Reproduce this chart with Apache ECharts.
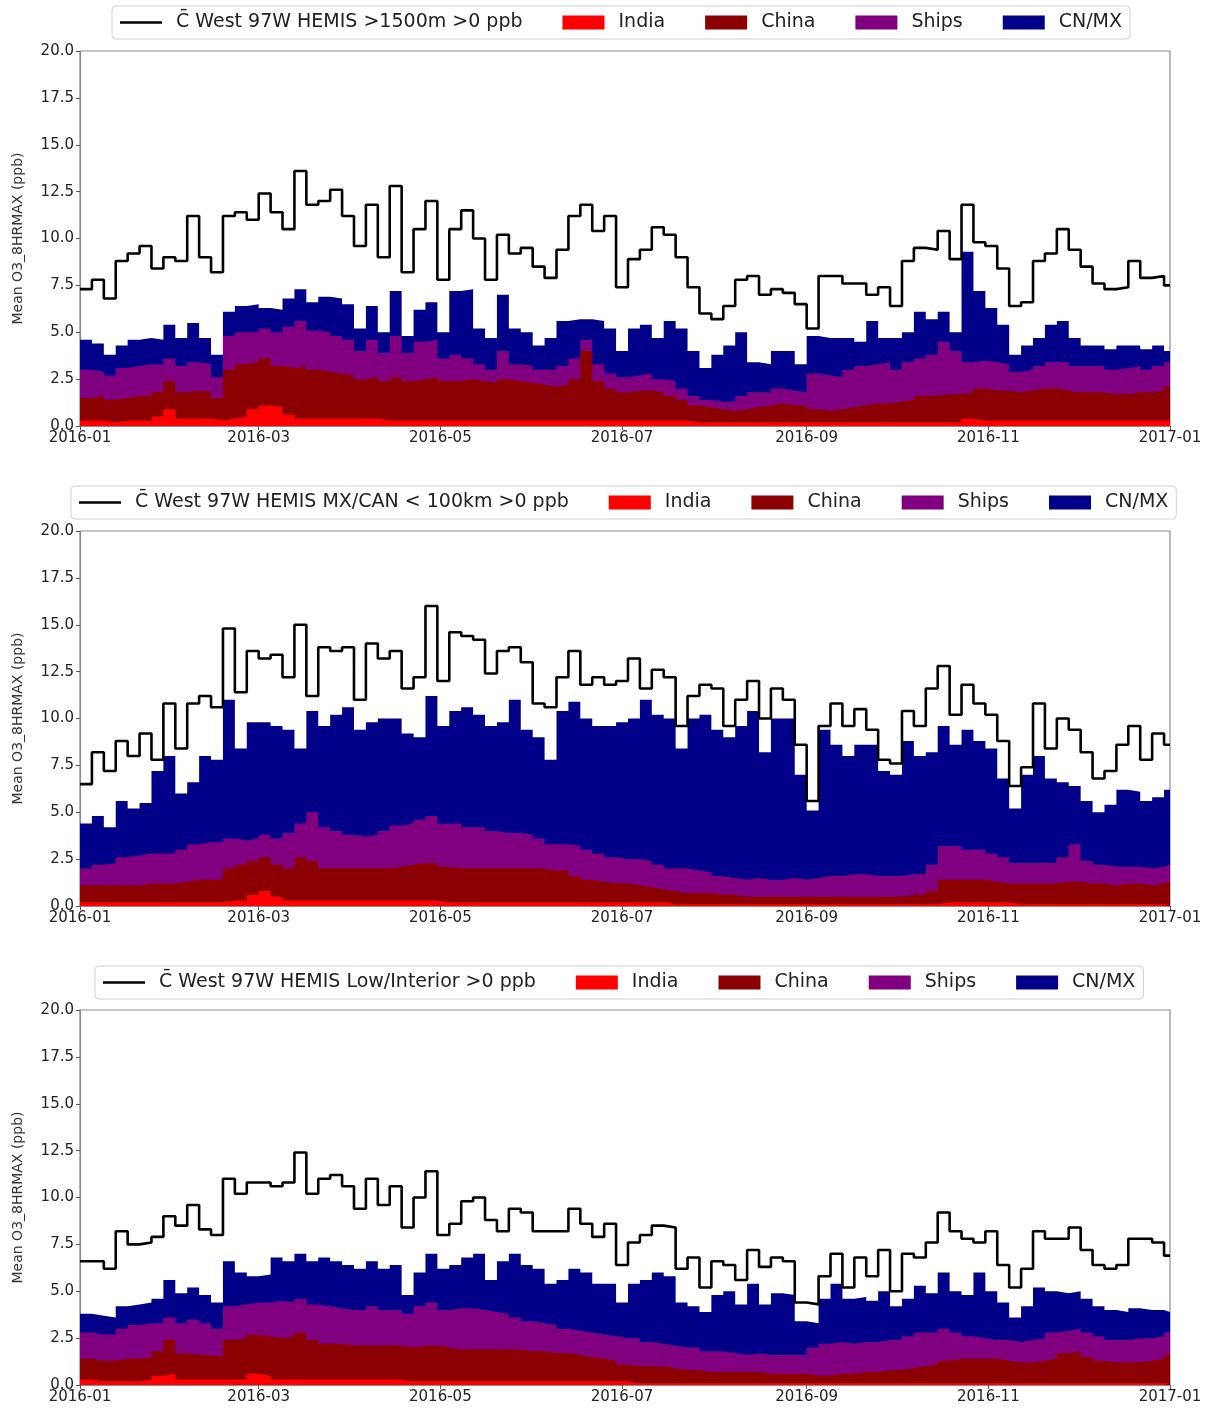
<!DOCTYPE html>
<html>
<head>
<meta charset="utf-8">
<script src="https://cdn.jsdelivr.net/npm/echarts@6/dist/echarts.min.js"></script>
<style>
  html, body { margin: 0; padding: 0; background: #fff; }
  #main { width: 1214px; height: 1410px; }
</style>
</head>
<body>
<div id="main"></div>
<script>
// x axis: day of 2016 (leap year), labels at the first of every second month
const tickDays = [0, 60, 121, 182, 244, 305, 366];
const tickLabels = ['2016-01', '2016-03', '2016-05', '2016-07', '2016-09', '2016-11', '2017-01'];
const binDays = 4;
const lastDay = 366;
const yTicks = [0, 2.5, 5, 7.5, 10, 12.5, 15, 17.5, 20];

const sourceNames = ['India', 'China', 'Ships', 'CN/MX'];
const sourceColors = ['#ff0000', '#8b0000', '#800080', '#000088'];
const lineNames = [
  'C\u0304 West 97W HEMIS >1500m >0 ppb',
  'C\u0304 West 97W HEMIS MX/CAN < 100km >0 ppb',
  'C\u0304 West 97W HEMIS Low/Interior >0 ppb'
];

// ---- panel 1: >1500m
const p1Total = [7.3,7.8,6.8,8.8,9.2,9.6,8.4,9.0,8.8,11.2,9.0,8.2,
  11.2,11.4,11.0,12.4,11.4,10.5,13.6,11.8,12.0,12.6,11.2,9.6,
  11.8,9.0,12.8,8.2,10.5,12.0,7.8,10.5,11.5,10.0,7.8,10.2,
  9.2,9.5,8.5,7.9,9.4,11.2,11.8,10.4,11.2,7.4,8.9,9.4,
  10.6,10.2,9.0,7.4,6.0,5.7,6.4,7.8,8.0,7.0,7.3,7.1,
  6.5,5.2,8.0,8.0,7.6,7.6,7.0,7.4,6.4,8.8,9.5,9.4,
  10.4,8.9,11.8,9.8,9.6,8.4,6.4,6.6,8.8,9.2,10.5,9.4,
  8.5,7.6,7.3,7.4,8.8,7.9,8.0,7.5];
const p1India = [.3,.3,.2,.3,.3,.3,.5,.9,.4,.4,.4,.3,
  .4,.5,.9,1.1,1.0,.6,.4,.4,.4,.4,.4,.4,
  .4,.3,.3,.3,.3,.3,.3,.3,.3,.3,.3,.3,
  .3,.3,.3,.3,.3,.3,.3,.3,.3,.3,.3,.3,
  .3,.3,.3,.2,.2,.2,.2,.2,.2,.2,.2,.2,
  .2,.2,.2,.2,.2,.2,.2,.2,.2,.2,.2,.2,
  .2,.2,.4,.3,.3,.3,.3,.3,.3,.3,.3,.3,
  .3,.3,.3,.3,.3,.3,.3,.3];
const p1China = [1.2,1.3,1.2,1.2,1.3,1.3,1.3,1.5,1.4,1.5,1.4,1.2,
  2.6,2.8,2.5,2.5,2.2,2.5,2.8,2.6,2.5,2.4,2.3,2.1,
  2.2,2.1,2.3,2.1,2.2,2.3,2.1,2.1,2.2,2.1,2.0,2.2,
  2.1,2.0,1.9,1.8,1.9,2.2,3.7,2.1,1.7,1.5,1.6,1.6,
  1.5,1.3,1.1,.9,.8,.7,.6,.7,.8,.9,1.0,.9,
  .9,.7,.6,.7,.8,.9,1.0,1.0,1.1,1.2,1.4,1.4,
  1.5,1.5,1.4,1.7,1.6,1.6,1.5,1.6,1.7,1.7,1.6,1.5,
  1.5,1.5,1.4,1.4,1.5,1.5,1.6,1.8];
const p1Ships = [1.5,1.3,1.3,1.6,1.6,1.7,1.5,1.2,1.4,1.5,1.5,1.1,
  1.8,1.7,1.6,1.6,1.8,2.2,2.4,2.1,2.1,2.0,1.9,1.5,
  2.0,1.5,2.2,1.5,2.0,2.0,1.2,1.4,1.1,.9,.7,1.5,
  .9,.9,.8,.9,1.0,1.1,.6,.9,.8,.8,.8,.9,
  .7,.8,.6,.5,.4,.4,.5,.7,.8,.7,.8,.8,
  .7,1.9,1.9,1.7,2.0,2.1,2.1,2.2,1.7,2.0,2.0,2.2,
  2.8,2.3,1.6,1.5,1.5,1.4,1.1,1.1,1.2,1.4,1.5,1.4,
  1.4,1.4,1.3,1.4,1.4,1.2,1.3,1.3];
const p1Cnmx = [1.6,1.5,1.1,1.2,1.4,1.4,1.3,1.8,1.5,2.1,1.4,1.2,
  1.3,1.4,1.5,1.1,1.2,1.5,1.7,1.5,1.9,2.0,1.9,1.2,
  1.8,1.1,2.4,.9,1.7,2.0,1.4,3.4,3.7,1.9,1.7,3.0,
  1.9,1.8,1.3,1.7,2.4,2.1,1.1,2.3,2.4,1.4,2.5,2.6,
  2.2,3.2,3.2,2.4,1.7,2.5,3.0,3.4,1.6,1.5,2.0,2.1,
  1.5,2.0,2.0,2.1,1.7,1.3,2.3,1.3,1.7,1.6,2.5,1.9,
  1.6,1.0,5.9,3.7,2.9,2.1,.9,1.3,1.5,2.0,2.2,1.5,
  1.1,1.1,1.1,1.2,1.1,1.1,1.1,.6];

// ---- panel 2: MX/CAN < 100km
const p2Total = [6.5,8.2,7.2,8.8,8.0,9.2,7.8,10.8,8.4,10.8,11.2,10.6,
  14.8,11.4,13.6,13.2,13.4,12.2,15.0,11.2,13.8,13.6,13.8,11.0,
  14.0,13.2,13.6,11.6,12.2,16.0,12.0,14.6,14.4,14.2,12.4,13.6,
  13.8,13.0,10.8,10.6,12.2,13.6,11.8,12.2,11.8,12.0,13.2,11.6,
  12.6,12.2,9.6,11.2,11.8,11.6,9.6,11.0,12.0,10.0,11.6,11.0,
  8.6,5.6,9.6,10.8,9.6,10.5,9.4,7.8,7.6,10.4,9.6,11.6,
  12.8,10.2,11.8,10.8,10.2,8.8,6.4,7.4,10.8,8.4,10.0,9.4,
  8.2,6.8,7.2,8.6,9.6,7.8,9.2,8.6];
const p2India = [.2,.2,.2,.2,.2,.2,.2,.2,.2,.2,.2,.2,
  .3,.3,.6,.8,.5,.3,.3,.3,.3,.3,.3,.3,
  .3,.3,.3,.3,.3,.3,.2,.2,.2,.2,.2,.2,
  .2,.2,.2,.2,.2,.2,.2,.2,.2,.2,.2,.2,
  .2,.1,.1,.1,.1,.1,.1,.1,.1,.1,.1,.1,
  .1,.1,.1,.1,.1,.1,.1,.1,.1,.1,.1,.1,
  .2,.2,.2,.2,.2,.2,.1,.1,.1,.1,.1,.1,
  .1,.1,.1,.1,.1,.1,.1,.1];
const p2China = [.9,.9,.9,.9,.9,1.0,1.0,1.0,1.1,1.2,1.2,1.2,
  1.7,1.9,1.8,1.8,1.7,1.7,2.3,2.1,1.7,1.7,1.7,1.7,
  1.7,1.7,1.8,1.9,2.0,2.0,1.9,1.8,1.8,1.8,1.8,1.8,
  1.8,1.8,1.8,1.7,1.7,1.4,1.2,1.1,1.0,1.0,.9,.8,
  .7,.7,.6,.6,.6,.5,.5,.4,.4,.4,.4,.4,
  .4,.4,.4,.4,.4,.4,.4,.4,.4,.5,.5,.7,
  1.2,1.2,1.2,1.2,1.1,1.0,1.1,1.1,1.1,1.1,1.2,1.2,
  1.1,1.1,1.0,1.1,1.1,1.0,1.1,1.2];
const p2Ships = [.9,1.1,1.2,1.5,1.6,1.6,1.6,1.6,1.7,1.9,2.0,2.0,
  1.6,1.3,1.2,1.2,1.4,1.9,1.8,2.6,2.2,2.0,1.8,1.7,
  1.8,2.0,2.2,2.2,2.3,2.5,2.3,2.4,2.2,2.2,2.0,1.9,
  1.9,1.8,1.6,1.4,1.4,1.6,1.6,1.5,1.4,1.3,1.4,1.4,
  1.3,1.2,1.3,1.2,1.1,1.0,.9,.9,1.0,.9,.9,1.0,
  .9,1.0,1.1,1.1,1.2,1.2,1.1,1.1,1.1,1.1,1.1,1.4,
  1.8,1.8,1.6,1.6,1.5,1.4,1.1,1.1,1.1,1.1,1.3,2.0,
  1.2,1.0,1.0,.9,.9,.9,.9,.9];
const p2Cnmx = [2.4,2.6,1.9,3.0,2.5,2.7,4.4,5.2,3.0,3.3,4.6,4.4,
  7.4,4.9,6.2,6.0,6.0,5.5,4.0,5.4,5.4,6.2,6.8,5.7,
  6.0,6.0,5.7,4.8,4.4,6.4,5.2,6.0,6.4,6.0,5.6,5.9,
  7.1,5.6,5.4,4.5,7.1,7.7,7.0,6.8,7.0,7.3,7.5,8.6,
  8.0,8.0,6.4,8.1,8.4,7.8,7.5,8.2,8.9,6.8,8.6,8.5,
  5.6,3.6,7.8,7.0,6.3,6.9,7.0,5.6,5.4,7.1,6.3,6.0,
  6.4,5.4,6.4,5.8,5.6,4.2,2.9,4.7,5.7,4.5,4.0,3.1,
  3.2,2.8,3.3,4.1,4.0,3.6,3.7,4.0];

// ---- panel 3: Low/Interior
const p3Total = [6.6,6.6,6.2,8.2,7.5,7.6,7.9,9.0,8.5,9.6,8.3,8.0,
  11.0,10.2,10.8,10.8,10.6,10.8,12.4,10.2,11.0,11.2,10.6,9.4,
  11.0,9.6,10.6,8.4,10.0,11.4,8.0,8.6,9.8,10.0,8.8,8.2,
  9.4,9.2,8.2,8.2,8.2,9.4,8.6,7.9,8.6,6.4,7.6,8.0,
  8.5,8.4,6.2,6.8,5.2,6.6,6.4,5.6,7.2,6.3,6.8,6.6,
  4.4,4.3,5.8,7.0,5.2,6.8,5.8,7.2,5.0,7.0,6.8,7.6,
  9.2,8.2,7.8,7.6,8.2,6.4,5.2,6.2,8.2,7.8,7.8,8.4,
  7.2,6.4,6.2,6.4,7.8,7.8,7.6,6.9];
const p3India = [.3,.2,.2,.2,.2,.3,.5,.6,.3,.3,.3,.3,
  .3,.3,.6,.5,.3,.3,.3,.3,.3,.3,.3,.3,
  .3,.3,.3,.2,.2,.2,.2,.2,.2,.2,.2,.2,
  .2,.2,.2,.2,.2,.2,.2,.2,.2,.2,.1,.1,
  .1,.1,.1,.1,.1,.1,.1,.1,.1,.1,.1,.1,
  .1,.1,.1,.1,.1,.1,.1,.1,.1,.1,.1,.1,
  .1,.1,.1,.1,.1,.1,.1,.1,.1,.1,.1,.1,
  .1,.1,.1,.1,.1,.1,.1,.1];
const p3China = [1.1,1.1,1.1,1.2,1.2,1.2,1.3,1.8,1.4,1.3,1.3,1.2,
  2.1,2.2,2.1,2.1,2.2,2.3,2.5,2.1,1.9,1.9,1.8,1.8,
  1.8,1.8,1.8,1.8,1.9,1.9,1.8,1.7,1.7,1.7,1.7,1.7,
  1.7,1.6,1.6,1.5,1.5,1.4,1.3,1.2,1.1,.9,.9,.9,
  .9,.8,.7,.7,.6,.6,.6,.6,.6,.5,.5,.5,
  .5,.4,.4,.5,.5,.6,.6,.7,.7,.8,.9,1.0,
  1.2,1.3,1.3,1.3,1.3,1.2,1.1,1.1,1.2,1.3,1.6,1.7,
  1.4,1.2,1.1,1.1,1.1,1.2,1.3,1.5];
const p3Ships = [1.4,1.4,1.4,1.6,1.8,1.8,1.5,1.2,1.6,1.9,1.7,1.5,
  1.8,1.8,1.7,1.8,2.0,1.8,1.8,1.9,2.0,1.9,1.9,1.9,
  2.1,1.9,1.9,1.8,2.1,2.3,2.0,2.2,2.2,2.1,2.0,1.9,
  1.7,1.6,1.5,1.5,1.3,1.3,1.3,1.3,1.3,1.4,1.5,1.3,
  1.2,1.2,1.2,1.2,1.1,1.1,1.0,.9,1.0,1.0,1.0,1.0,
  1.0,1.5,1.7,1.7,1.6,1.6,1.6,1.6,1.6,1.7,1.8,1.7,
  1.7,1.4,1.2,1.1,1.0,1.1,1.1,1.2,1.2,1.4,1.2,1.2,
  1.3,1.3,1.2,1.2,1.3,1.2,1.2,1.2];
const p3Cnmx = [1.0,1.0,.9,1.2,1.1,1.1,1.3,2.0,1.6,1.7,1.5,1.4,
  2.4,1.7,1.4,1.5,2.3,2.2,2.4,2.3,2.6,2.5,2.4,2.2,
  2.4,2.2,2.4,1.0,1.8,2.6,2.2,2.3,2.7,3.0,1.7,2.8,
  3.4,3.0,2.9,2.2,2.6,3.3,3.2,2.7,2.8,1.9,2.9,3.3,
  3.8,3.7,2.4,2.2,2.1,3.0,3.3,2.7,3.7,2.7,3.3,3.2,
  1.8,1.3,2.4,3.1,2.4,2.4,2.2,2.6,1.8,2.0,2.5,2.1,
  3.0,2.2,2.2,3.5,2.6,2.0,1.3,1.8,2.7,2.2,2.0,2.0,
  1.8,1.6,1.6,1.5,1.6,1.5,1.4,1.1];

const panels = [
  { total: p1Total, parts: [p1India, p1China, p1Ships, p1Cnmx] },
  { total: p2Total, parts: [p2India, p2China, p2Ships, p2Cnmx] },
  { total: p3Total, parts: [p3India, p3China, p3Ships, p3Cnmx] }
];

// step data: each value holds from its bin start to the next bin start
function toSteps(vals) {
  const pts = vals.map((v, i) => [i * binDays, v]);
  pts.push([lastDay, vals[vals.length - 1]]);
  return pts;
}

// running sums so each layer is drawn as a filled area from 0 up to its stacked top
function cumulative(parts) {
  const out = [];
  let run = parts[0].map(() => 0);
  parts.forEach(arr => {
    run = run.map((s, i) => +(s + arr[i]).toFixed(3));
    out.push(run);
  });
  return out;
}

const FONT = 'DejaVu Sans';
const gridTops = [51, 531, 1010];
const legendTops = [6, 486, 966];
const legendLefts = [112, 71, 95];

const grids = [], xAxes = [], yAxes = [], legends = [], series = [];

panels.forEach((p, k) => {
  grids.push({
    left: 80, right: 44, top: gridTops[k], height: 375,
    show: true, borderColor: '#8c8c8c', borderWidth: 1.2, backgroundColor: '#fff'
  });
  xAxes.push({
    type: 'value', gridIndex: k, min: 0, max: lastDay,
    splitLine: { show: false },
    axisLine: { show: true, onZero: false, lineStyle: { color: '#8c8c8c', width: 1.2 } },
    axisTick: { show: true, customValues: tickDays, length: 4, lineStyle: { color: '#555' } },
    axisLabel: {
      customValues: tickDays, margin: 5, color: '#222', fontSize: 15, fontFamily: FONT,
      formatter: v => tickLabels[tickDays.indexOf(v)] || ''
    }
  });
  yAxes.push({
    type: 'value', gridIndex: k, min: 0, max: 20,
    name: 'Mean O3_8HRMAX (ppb)', nameLocation: 'middle', nameGap: 55,
    nameTextStyle: { fontSize: 14, color: '#333', fontFamily: FONT },
    splitLine: { show: false },
    axisLine: { show: true, lineStyle: { color: '#8c8c8c', width: 1.2 } },
    axisTick: { show: true, customValues: yTicks, length: 4, lineStyle: { color: '#555' } },
    axisLabel: {
      customValues: yTicks, margin: 6, color: '#222', fontSize: 15, fontFamily: FONT,
      formatter: v => v.toFixed(1)
    }
  });
  legends.push({
    top: legendTops[k], left: legendLefts[k],
    data: [{ name: lineNames[k], icon: 'path://M0,0 H40 V2.5 H0 Z' }]
      .concat(sourceNames.map(n => ({ name: n, icon: 'rect' }))),
    itemWidth: 42, itemHeight: 14, itemGap: 40,
    padding: [7, 8], borderColor: '#d0d0d0', borderWidth: 1, borderRadius: 4,
    backgroundColor: '#fff',
    textStyle: { fontSize: 19, color: '#222', fontFamily: FONT, padding: [0, 0, 0, 9] }
  });
  const tops = cumulative(p.parts);
  // back to front: CN/MX top first, India last
  for (let j = tops.length - 1; j >= 0; j--) {
    series.push({
      name: sourceNames[j], type: 'line', xAxisIndex: k, yAxisIndex: k,
      step: 'end', symbol: 'none', silent: true,
      data: toSteps(tops[j]),
      lineStyle: { width: 0 },
      itemStyle: { color: sourceColors[j] },
      areaStyle: { color: sourceColors[j], opacity: 1, origin: 'start' },
      z: 2 + (tops.length - j)
    });
  }
  series.push({
    name: lineNames[k], type: 'line', xAxisIndex: k, yAxisIndex: k,
    step: 'end', symbol: 'none', silent: true,
    data: toSteps(p.total),
    lineStyle: { color: '#000', width: 2.6 },
    itemStyle: { color: '#000' },
    z: 10
  });
});

const chart = echarts.init(document.getElementById('main'), null, { renderer: 'canvas' });
chart.setOption({
  animation: false,
  backgroundColor: '#fff',
  grid: grids, xAxis: xAxes, yAxis: yAxes, legend: legends, series: series
});
window.addEventListener('resize', function () { chart.resize(); });
</script>
</body>
</html>
